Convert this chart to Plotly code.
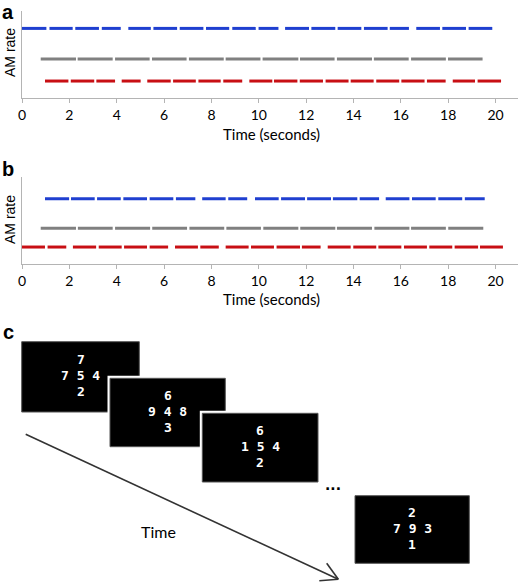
import plotly.graph_objects as go

W, H = 520, 582

# ---------------- data ----------------
# Panel a: tone onsets / offsets (seconds) for the three sequences
a_blue_on = [0.0, 1.16, 2.25, 3.37, 4.49, 5.55, 6.66, 7.77, 8.88, 9.99, 11.11, 12.22, 13.33, 14.44, 15.53, 16.65, 17.75, 18.86]
a_blue_off = [1.03, 2.14, 3.25, 4.17, 5.44, 6.55, 7.66, 8.75, 9.87, 10.83, 12.12, 13.23, 14.33, 15.44, 16.34, 17.65, 18.75, 19.86]
a_gray_on = [0.79, 2.35, 3.93, 5.49, 7.05, 8.6, 10.16, 11.74, 13.3, 14.86, 16.43, 17.99]
a_gray_off = [2.28, 3.83, 5.39, 6.95, 8.52, 10.07, 11.67, 13.2, 14.78, 16.33, 17.9, 19.45]
a_red_on = [0.97, 2.06, 3.14, 4.21, 5.29, 6.38, 7.45, 8.5, 9.6, 10.64, 11.73, 12.82, 13.88, 14.96, 16.02, 17.1, 18.19, 19.24]
a_red_off = [1.96, 3.05, 3.93, 5.01, 6.28, 7.34, 8.39, 9.3, 10.57, 11.63, 12.71, 13.79, 14.85, 15.93, 17.0, 17.89, 19.13, 20.23]
a_levels = [0.80, 0.448, 0.195]  # blue, gray, red

# Panel b
b_blue_on = [0.97, 2.07, 3.17, 4.28, 5.39, 6.5, 7.61, 8.71, 9.84, 10.94, 12.04, 13.13, 14.26, 15.36, 16.47, 17.58, 18.7]
b_blue_off = [1.99, 3.07, 4.17, 5.28, 6.39, 7.32, 8.6, 9.51, 10.84, 11.95, 13.05, 14.16, 15.08, 16.36, 17.47, 18.59, 19.54]
b_gray_on = [0.79, 2.36, 3.93, 5.5, 7.07, 8.63, 10.19, 11.75, 13.3, 14.88, 16.43, 18.0]
b_gray_off = [2.28, 3.83, 5.41, 6.97, 8.54, 10.09, 11.67, 13.23, 14.78, 16.36, 17.9, 19.48]
b_red_on = [0.0, 1.08, 2.15, 3.24, 4.31, 5.39, 6.46, 7.53, 8.6, 9.67, 10.75, 11.82, 12.91, 13.99, 15.05, 16.13, 17.2, 18.27, 19.34]
b_red_off = [0.97, 1.87, 3.13, 4.21, 5.28, 6.17, 7.43, 8.31, 9.57, 10.64, 11.74, 12.61, 13.88, 14.96, 16.02, 17.1, 18.17, 19.26, 20.31]
b_levels = [0.75, 0.41, 0.195]

tick_vals = [0, 2, 4, 6, 8, 10, 12, 14, 16, 18, 20]
tick_text = ["0", "2", "4", "6", "8", "10", "12", "14", "16", "18", "20"]

# Panel c: digit screens
screen_top = ["7", "6", "6", "2"]
screen_mid = ["7 5 4", "9 4 8", "1 5 4", "7 9 3"]
screen_bot = ["2", "3", "2", "1"]

# ---------------- styling ----------------
BLUE = "#1f3fd0"
GRAY = "#808080"
RED = "#c80f14"
AXIS = "#b4b4b4"


def px(x):
    return x / W


def py(y):
    return 1 - y / H


def seg_xy(on, off, level):
    xs, ys = [], []
    for a, b in zip(on, off):
        xs += [a, b, None]
        ys += [level, level, None]
    return xs, ys


fig = go.Figure()

panels = [
    ("x", "y", [(a_blue_on, a_blue_off, BLUE), (a_gray_on, a_gray_off, GRAY), (a_red_on, a_red_off, RED)], a_levels),
    ("x2", "y2", [(b_blue_on, b_blue_off, BLUE), (b_gray_on, b_gray_off, GRAY), (b_red_on, b_red_off, RED)], b_levels),
]
for xa, ya, series, levels in panels:
    for (on, off, col), lev in zip(series, levels):
        xs, ys = seg_xy(on, off, lev)
        fig.add_trace(go.Scatter(x=xs, y=ys, mode="lines", xaxis=xa, yaxis=ya,
                                 line=dict(color=col, width=3), hoverinfo="skip",
                                 showlegend=False, connectgaps=False))

x_px0, x_px1 = 22, 518
xmax = (x_px1 - x_px0) / 23.68

axis_common = dict(range=[0, xmax], showgrid=False, zeroline=False, showline=True,
                   linecolor=AXIS, linewidth=1, ticks="outside", ticklen=4,
                   tickcolor=AXIS, tickvals=tick_vals, ticktext=tick_text,
                   tickfont=dict(family="Lato", size=14, color="#000"))
yaxis_common = dict(range=[0, 1], showgrid=False, zeroline=False, showline=True,
                    linecolor=AXIS, linewidth=1, showticklabels=False, ticks="")

layout = dict(
    width=W, height=H, margin=dict(l=0, r=0, t=0, b=0, autoexpand=False),
    paper_bgcolor="white", plot_bgcolor="rgba(0,0,0,0)",
    xaxis=dict(domain=[px(x_px0), px(x_px1)], anchor="y", **axis_common),
    yaxis=dict(domain=[py(98), py(11)], anchor="x", **yaxis_common),
    xaxis2=dict(domain=[px(x_px0), px(x_px1)], anchor="y2", **axis_common),
    yaxis2=dict(domain=[py(264), py(177)], anchor="x2", **yaxis_common),
)
fig.update_layout(**layout)

ann = []
shapes = []


def text(x, y, s, size, family="Lato", color="#000", bold=False, angle=0):
    if bold:
        s = "<b>" + s + "</b>"
    ann.append(dict(x=px(x), y=py(y), xref="paper", yref="paper", text=s,
                    showarrow=False, xanchor="center", yanchor="middle",
                    textangle=angle, font=dict(family=family, size=size, color=color)))


# panel labels
text(8, 11.5, "a", 20, family="Liberation Sans", bold=True)
text(8, 169, "b", 20, family="Liberation Sans", bold=True)
text(8, 332, "c", 20, family="Liberation Sans", bold=True)

# axis titles
text(271, 134, "Time (seconds)", 15)
text(271, 299, "Time (seconds)", 15)
text(10, 53, "AM rate", 14, family="Liberation Sans", angle=-90)
text(10, 220, "AM rate", 14, family="Liberation Sans", angle=-90)

# panel c screens: (x0, y0, x1, y1) in pixels
boxes = [(21.7, 341.7, 139.3, 412), (110, 378.3, 225.3, 446.7),
         (202.3, 413.3, 318, 482), (355, 495.7, 469.3, 563.3)]


def rect(x0, y0, x1, y1, fill, line=None, lw=0):
    shapes.append(dict(type="rect", xref="paper", yref="paper",
                       x0=px(x0), x1=px(x1), y0=py(y1), y1=py(y0),
                       fillcolor=fill, line=dict(color=line or fill, width=lw), layer="above"))


for i, (x0, y0, x1, y1) in enumerate(boxes):
    if i > 0:
        rect(x0 - 2.5, y0 - 2.5, x1 + 2.5, y1 + 2.5, "white")
    rect(x0, y0, x1, y1, "black", "#555555", 1)
    cx = (x0 + x1) / 2
    cy = (y0 + y1) / 2
    for dy, s in ((-16.5, screen_top[i]), (0, screen_mid[i]), (16, screen_bot[i])):
        text(cx, cy + dy - 1, s, 13, family="DejaVu Sans Mono", color="white", bold=True)

# ellipsis
text(333, 485, "...", 14, family="DejaVu Sans", bold=True)

# time arrow
ARROW = "#333333"


def line(x0, y0, x1, y1, w=1.6):
    shapes.append(dict(type="line", xref="paper", yref="paper",
                       x0=px(x0), y0=py(y0), x1=px(x1), y1=py(y1),
                       line=dict(color=ARROW, width=w), layer="above"))


line(25.7, 434.3, 338.3, 579.3)
line(338.3, 579.3, 326.7, 563.3)
line(338.3, 579.3, 319.3, 580.7)
text(158, 531, "Time", 16)

fig.update_layout(annotations=ann, shapes=shapes)
fig.write_html("out.html", config={"responsive": False, "displayModeBar": False},
               post_script="document.body.style.margin='0';document.body.style.overflow='hidden';")
